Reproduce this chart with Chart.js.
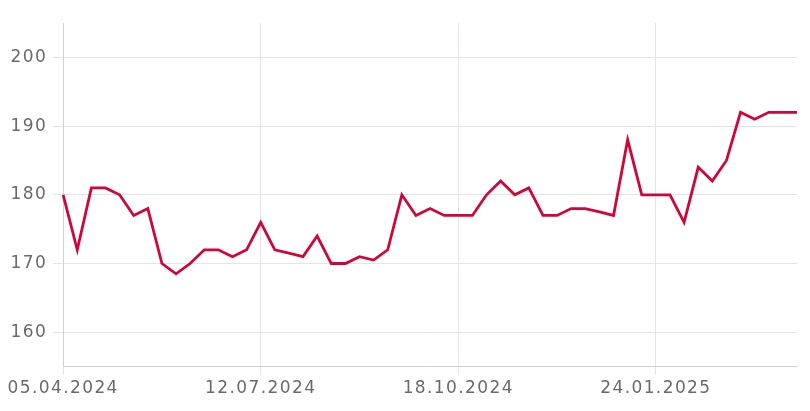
<!DOCTYPE html>
<html>
<head>
<meta charset="utf-8">
<script src="https://cdn.jsdelivr.net/npm/chart.js@4.4.1/dist/chart.umd.min.js"></script>
<style>
  html, body { margin: 0; padding: 0; background: #fff; }
  #wrap { width: 810px; height: 411px; }
</style>
</head>
<body>
<div id="wrap"><canvas id="chart"></canvas></div>
<script>
// weekly values, starting 05.04.2024
const startDate = new Date(2024, 3, 5);
const values = [
    180, 172, 181, 181, 180, 177, 178, 170, 168.5, 170,
    172, 172, 171, 172, 176, 172, 171.5, 171, 174, 170,
    170, 171, 170.5, 172, 180, 177, 178, 177, 177, 177,
    180, 182, 180, 181, 177, 177, 178, 178, 177.5, 177,
    188, 180, 180, 180, 176, 184, 182, 185, 192, 191,
    192, 192, 192
];
const shownLabels = ['05.04.2024', '12.07.2024', '18.10.2024', '24.01.2025'];
const yTicks = [160, 170, 180, 190, 200];

function fmt(d) {
    const dd = String(d.getDate()).padStart(2, '0');
    const mm = String(d.getMonth() + 1).padStart(2, '0');
    return dd + '.' + mm + '.' + d.getFullYear();
}

const labels = values.map((v, i) => {
    const d = new Date(startDate);
    d.setDate(d.getDate() + i * 7);
    return fmt(d);
});

const textColor = '#6a6a6a';
const gridColor = '#e1e4e8';
const borderColor = '#cfd3d8';

// wider text, like the original font
const spacing = {
    id: 'spacing',
    beforeLayout(chart) { chart.ctx.letterSpacing = '1.4px'; },
    beforeDraw(chart) { chart.ctx.letterSpacing = '1.4px'; }
};

new Chart(document.getElementById('chart').getContext('2d'), {
    type: 'line',
    data: {
        labels: labels,
        datasets: [{
            data: values,
            borderColor: '#d0063a',
            borderWidth: 2.8,
            pointRadius: 0,
            tension: 0,
            fill: false
        }]
    },
    options: {
        responsive: true,
        maintainAspectRatio: false,
        animation: false,
        layout: { padding: { top: 23, right: 13, left: 4.5, bottom: 8 } },
        plugins: {
            legend: { display: false },
            tooltip: { enabled: false }
        },
        scales: {
            x: {
                offset: false,
                border: { color: borderColor },
                grid: { color: gridColor, tickLength: 8 },
                ticks: {
                    autoSkip: false,
                    maxRotation: 0,
                    color: textColor,
                    font: { family: 'DejaVu Sans', size: 17 },
                    padding: 4,
                    callback: function(value) {
                        const l = this.getLabelForValue(value);
                        return shownLabels.includes(l) ? l : null;
                    }
                }
            },
            y: {
                min: 155,
                max: 205,
                border: { color: borderColor },
                grid: { color: gridColor, tickLength: 10 },
                ticks: {
                    stepSize: 5,
                    color: textColor,
                    font: { family: 'DejaVu Sans', size: 17 },
                    padding: 6,
                    callback: function(value) {
                        return yTicks.includes(value) ? value : null;
                    }
                }
            }
        }
    },
    plugins: [spacing]
});
</script>
</body>
</html>
